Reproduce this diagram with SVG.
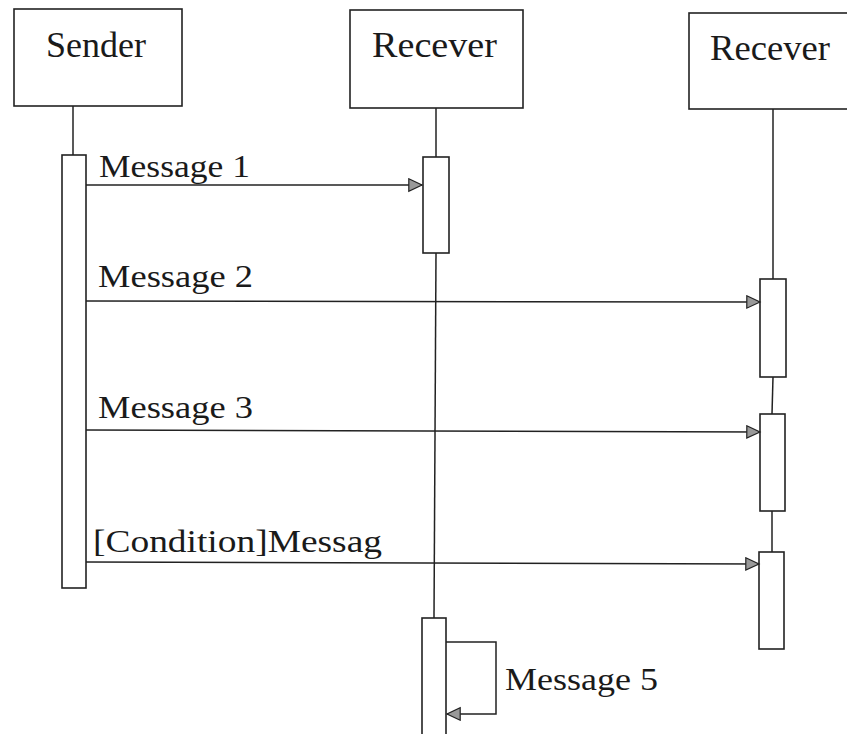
<svg xmlns="http://www.w3.org/2000/svg" width="847" height="734" viewBox="0 0 847 734">
<style>
.box{fill:#fff;stroke:#222;stroke-width:1.6}
.bar{fill:#fff;stroke:#222;stroke-width:1.6}
.life{stroke:#222;stroke-width:1.5;fill:none}
.msg{stroke:#222;stroke-width:1.5;fill:none;marker-end:url(#arr)}
.hd{font-family:"Liberation Serif",serif;font-size:36px;fill:#1a1a1a}
.lb{font-family:"Liberation Serif",serif;font-size:32px;fill:#1a1a1a}
</style>
<defs>
<marker id="arr" markerUnits="userSpaceOnUse" markerWidth="16" markerHeight="16" refX="14" refY="7" orient="auto">
<path d="M0.8,0.8 L14,7 L0.8,13.2 z" fill="#999" stroke="#222" stroke-width="1.2"/>
</marker>
</defs>
<rect width="847" height="734" fill="#fff"/>
<g id="sender">
<line class="life" x1="73" y1="106" x2="73" y2="155"/>
<rect class="box" x="14" y="9" width="168" height="97"/>
<text class="hd" x="46" y="57" textLength="100" lengthAdjust="spacingAndGlyphs">Sender</text>
<rect class="bar" x="62" y="155" width="24" height="433"/>
</g>
<g id="receiver1">
<line class="life" x1="436" y1="108" x2="436" y2="157"/>
<line class="life" x1="436" y1="253" x2="434" y2="618"/>
<rect class="box" x="350" y="10" width="173" height="98"/>
<text class="hd" x="372" y="57" textLength="125" lengthAdjust="spacingAndGlyphs">Recever</text>
<rect class="bar" x="423" y="157" width="26" height="96"/>
<rect class="bar" x="422" y="618" width="24" height="130"/>
</g>
<g id="receiver2">
<line class="life" x1="773" y1="109" x2="773" y2="279"/>
<line class="life" x1="773" y1="377" x2="772" y2="414"/>
<line class="life" x1="772" y1="511" x2="772" y2="552"/>
<rect class="box" x="689" y="13" width="172" height="96"/>
<text class="hd" x="710" y="60" textLength="120" lengthAdjust="spacingAndGlyphs">Recever</text>
<rect class="bar" x="760" y="279" width="26" height="98"/>
<rect class="bar" x="760" y="414" width="25" height="97"/>
<rect class="bar" x="759" y="552" width="25" height="97"/>
</g>
<g id="connectors">
<line class="msg" x1="86" y1="185" x2="422" y2="185"/>
<line class="msg" x1="86" y1="301" x2="760" y2="302"/>
<line class="msg" x1="86" y1="430" x2="760" y2="432"/>
<line class="msg" x1="86" y1="562" x2="759" y2="564"/>
<path class="msg" d="M446,642 H496 V714 H447"/>
</g>
<g id="labels">
<text class="lb" x="99" y="177" textLength="151" lengthAdjust="spacingAndGlyphs">Message 1</text>
<text class="lb" x="98" y="287" textLength="155" lengthAdjust="spacingAndGlyphs">Message 2</text>
<text class="lb" x="98" y="418" textLength="155" lengthAdjust="spacingAndGlyphs">Message 3</text>
<text class="lb" x="93" y="552" textLength="289" lengthAdjust="spacingAndGlyphs">[Condition]Messag</text>
<text class="lb" x="505" y="690" textLength="153" lengthAdjust="spacingAndGlyphs">Message 5</text>
</g>
</svg>
